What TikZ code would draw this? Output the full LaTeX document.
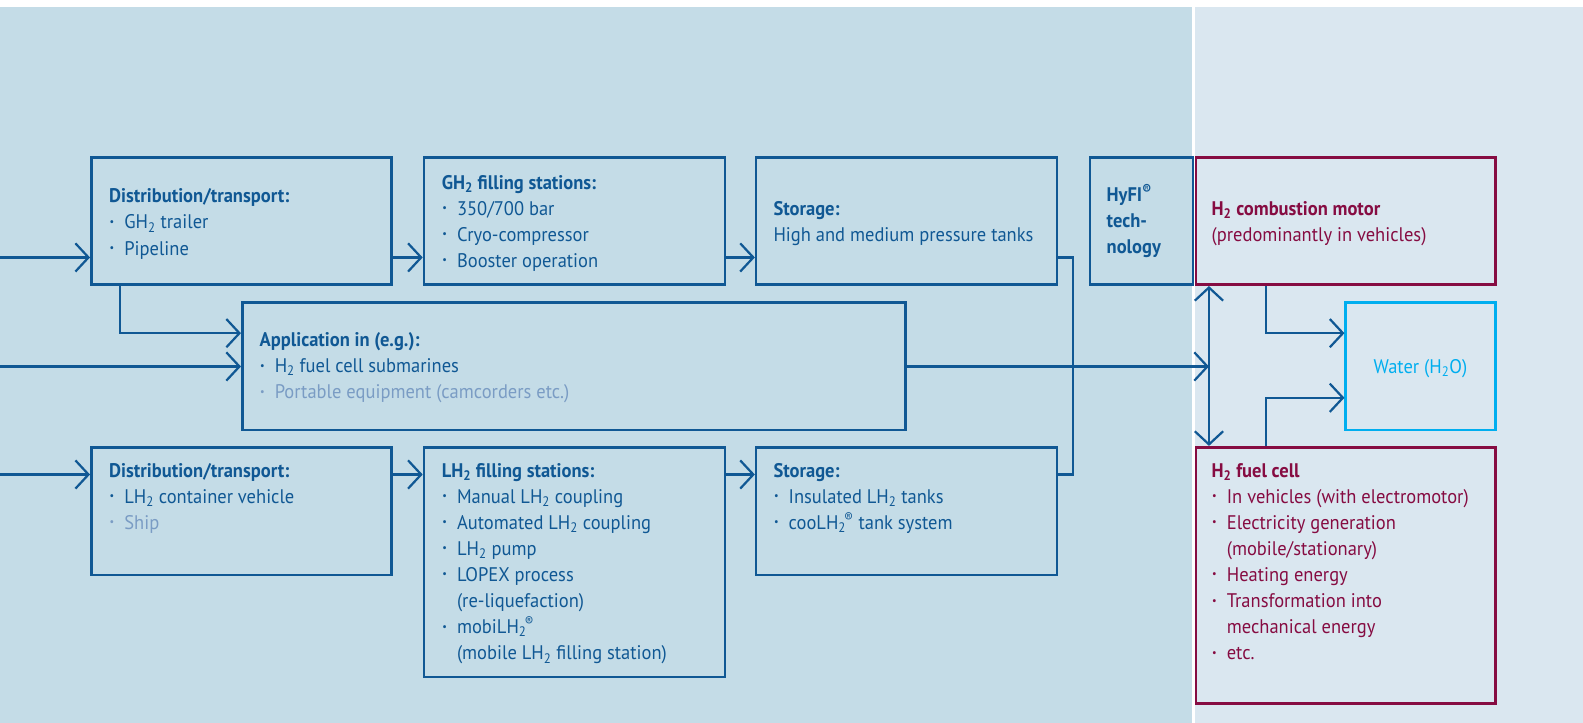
\documentclass[tikz,border=0pt]{standalone}
\usepackage{fontspec}
\usepackage{graphicx}
\setmainfont{PT Sans}[FakeStretch=0.94]
\usetikzlibrary{arrows.meta}
\definecolor{bluec}{RGB}{16,88,148}
\definecolor{maroonc}{RGB}{134,12,66}
\definecolor{cyanc}{RGB}{0,174,239}
\definecolor{greyc}{RGB}{122,156,196}
\definecolor{bgleft}{RGB}{196,220,231}
\definecolor{bgright}{RGB}{218,231,240}
\newcommand\bl{\makebox[15pt][l]{\hspace{0.5pt}\raisebox{0.19em}{\scalebox{0.55}{\textbullet}}}}
\newcommand\ind{\hspace*{15pt}}
\tikzset{
  box/.style={rectangle, draw=bluec, line width=2.6pt, inner sep=0pt},
  mbox/.style={box, draw=maroonc},
  cbox/.style={box, draw=cyanc},
  conn/.style={draw=bluec, line width=2.2pt},
  barb/.tip={Straight Barb[length=13pt,width=28pt]},
  arr/.style={conn, -barb},
  txt/.style={inner sep=0pt, align=left, text=bluec, font=\fontsize{19.5}{25.8}\selectfont},
}
\begin{document}
\begin{tikzpicture}[x=1pt,y=-1pt]
\useasboundingbox (0,0) rectangle (1568,716);
\fill[white] (0,0) rectangle (1568,716);
\fill[bgleft] (0,7) rectangle (1181,716);
\fill[bgright] (1184,7) rectangle (1568,716);
% boxes
\node[box, minimum width=297.5pt, minimum height=126pt] (dg) at (239.25,219) {};
\node[box, minimum width=298pt, minimum height=126pt] (gf) at (569,219) {};
\node[box, minimum width=298pt, minimum height=126pt] (sg) at (898,219) {};
\node[box, minimum width=102pt, minimum height=126pt] (hy) at (1130.5,219) {};
\node[mbox, minimum width=296.5pt, minimum height=126pt] (cm) at (1332.75,219) {};
\node[box, minimum width=657pt, minimum height=126.5pt] (ap) at (568.5,362.75) {};
\node[cbox, minimum width=148pt, minimum height=126.5pt] (wa) at (1407,362.75) {};
\node[box, minimum width=297.5pt, minimum height=126.5pt] (dl) at (239.25,506.25) {};
\node[box, minimum width=298pt, minimum height=227.5pt] (lf) at (569,556.75) {};
\node[box, minimum width=298pt, minimum height=126.5pt] (sl) at (898,506.25) {};
\node[mbox, minimum width=296.5pt, minimum height=254pt] (fc) at (1332.75,570) {};
% texts (anchor = baseline of last line)
\node[txt, anchor=base west] (tdg) at (108,252.6) {\textbf{Distribution/transport:}\\ \bl GH\textsubscript{2} trailer\\ \bl Pipeline};
\node[txt, anchor=base west] (tgf) at (437.5,264.9) {\textbf{GH\textsubscript{2} filling stations:}\\ \bl 350/700 bar\\ \bl Cryo-compressor\\ \bl Booster operation};
\node[txt, anchor=base west] (tsg) at (766,238.8) {\textbf{Storage:}\\ High and medium pressure tanks};
\node[txt, anchor=base west] (thy) at (1096,251.4) {\textbf{HyFI\textsuperscript{\textregistered}}\\ \textbf{tech-}\\ \textbf{nology}};
\node[txt, anchor=base west, text=maroonc] (tcm) at (1200,238.8) {\textbf{H\textsubscript{2} combustion motor}\\ (predominantly in vehicles)};
\node[txt, anchor=base west] (tap) at (257,395) {\textbf{Application in (e.g.):}\\ \bl H\textsubscript{2} fuel cell submarines\\ {\color{greyc}\bl Portable equipment (camcorders etc.)}};
\node[txt, anchor=base, text=cyanc] (twa) at (1407,370) {Water (H\textsubscript{2}O)};
\node[txt, anchor=base west] (tdl) at (108,524.6) {\textbf{Distribution/transport:}\\ \bl LH\textsubscript{2} container vehicle\\ {\color{greyc}\bl Ship}};
\node[txt, anchor=base west] (tlf) at (437.5,653.6) {\textbf{LH\textsubscript{2} filling stations:}\\ \bl Manual LH\textsubscript{2} coupling\\ \bl Automated LH\textsubscript{2} coupling\\ \bl LH\textsubscript{2} pump\\ \bl LOPEX process\\ \ind(re-liquefaction)\\ \bl mobiLH\textsubscript{2}\kern-0.1em\textsuperscript{\textregistered}\\ \ind(mobile LH\textsubscript{2} filling station)};
\node[txt, anchor=base west] (tsl) at (766,524.6) {\textbf{Storage:}\\ \bl Insulated LH\textsubscript{2} tanks\\ \bl cooLH\textsubscript{2}\kern-0.1em\textsuperscript{\textregistered} tank system};
\node[txt, anchor=base west, text=maroonc] (tfc) at (1200,653.6) {\textbf{H\textsubscript{2} fuel cell}\\ \bl In vehicles (with electromotor)\\ \bl Electricity generation\\ \ind(mobile/stationary)\\ \bl Heating energy\\ \bl Transformation into\\ \ind mechanical energy\\ \bl etc.};
% connectors
\coordinate (inA) at (0,255);
\coordinate (inB) at (0,363);
\coordinate (inC) at (0,470);
\coordinate (br) at (119,330);
\coordinate (vx) at (1197.5,363);
\coordinate (sx) at (1063,363);
\coordinate (wx) at (1254,330);
\coordinate (wy) at (1254,394);
\draw[arr] (inA) -- (dg.west |- inA);
\draw[arr] (dg.east |- inA) -- (gf.west |- inA);
\draw[arr] (gf.east |- inA) -- (sg.west |- inA);
\draw[arr] (dg.south -| br) |- (ap.west |- br);
\draw[arr] (inB) -- (ap.west |- inB);
\draw[arr] (ap.east |- inB) -- (vx);
\draw[conn, barb-barb] (cm.south -| vx) -- (fc.north -| vx);
\draw[conn, line join=miter] (sg.east |- inA) -| (sx |- inC) -- (sl.east |- inC);
\draw[arr] (cm.south -| wx) |- (wa.west |- wx);
\draw[arr] (fc.north -| wy) |- (wa.west |- wy);
\draw[arr] (inC) -- (dl.west |- inC);
\draw[arr] (dl.east |- inC) -- (lf.west |- inC);
\draw[arr] (lf.east |- inC) -- (sl.west |- inC);
\end{tikzpicture}
\end{document}
